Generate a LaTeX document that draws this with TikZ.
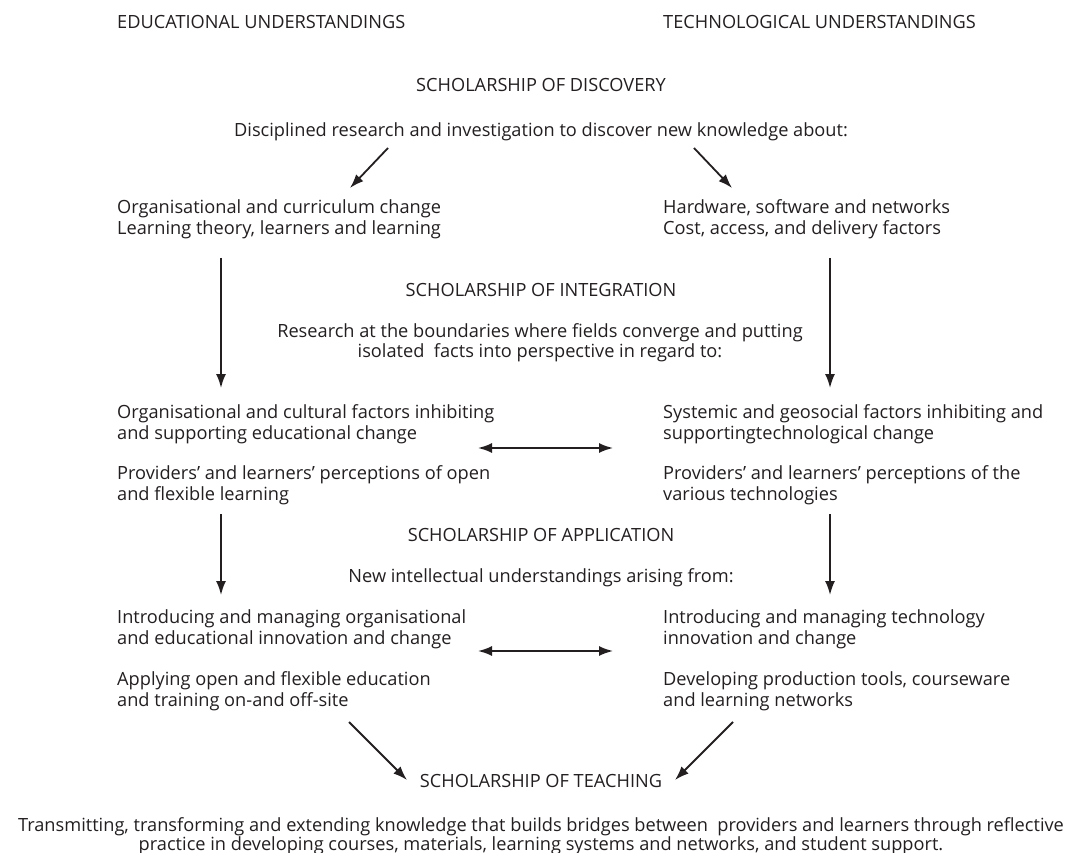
\documentclass[tikz,border=0pt]{standalone}
\usepackage{fontspec}
\setmainfont{Open Sans}
\usetikzlibrary{arrows.meta}
\definecolor{ink}{HTML}{231F20}
\tikzset{
    txt/.style={inner sep=0pt, align=left, anchor=base west, text=ink, font=\fontsize{18.2}{21}\selectfont},
    mid/.style={inner sep=0pt, align=center, anchor=base, text=ink, font=\fontsize{18.2}{21}\selectfont},
    arr/.style={draw=ink, line width=1.8pt, -{Latex[length=14pt,width=10pt]}},
    dbl/.style={draw=ink, line width=1.8pt, {Latex[length=14pt,width=10pt]}-{Latex[length=14pt,width=10pt]}}
}
\begin{document}
\begin{tikzpicture}[x=1pt,y=-1pt]
        \useasboundingbox ( 0, 0 ) rectangle ( 1074, 853 );

        % заголовки
        \node[txt] (edu) at ( 117, 28.5 ) {EDUCATIONAL UNDERSTANDINGS};
        \node[txt] (tech) at ( 663, 28.5 ) {TECHNOLOGICAL UNDERSTANDINGS};

        % discovery
        \node[mid] (disc) at ( 541, 91.5 ) {SCHOLARSHIP OF DISCOVERY};
        \node[mid] (discText) at ( 541, 136.5 ) {Disciplined research and investigation to discover new knowledge about:};
        \node[txt] (discL) at ( 117, 234.5 ) {Organisational and curriculum change\\Learning theory, learners and learning};
        \node[txt] (discR) at ( 663, 234.5 ) {Hardware, software and networks\\Cost, access, and delivery factors};
        % discovery -> [L,R]
        \coordinate (dl1) at ( 388, 148 ); \coordinate (dl2) at ( 350, 188 );
        \coordinate (dr1) at ( 694, 148 ); \coordinate (dr2) at ( 732, 188 );
        \draw[arr] (dl1) -- (dl2);
        \draw[arr] (dr1) -- (dr2);

        % integration
        \node[mid] (integ) at ( 541, 296 ) {SCHOLARSHIP OF INTEGRATION};
        \node[mid, font=\fontsize{18.2}{20}\selectfont] (integText) at ( 540, 357.5 ) {Research at the boundaries where fields converge and putting\\isolated\ \ facts into perspective in regard to:};
        \node[txt] (integL1) at ( 117, 439.5 ) {Organisational and cultural factors inhibiting\\and supporting educational change};
        \node[txt] (integL2) at ( 117, 500.5 ) {Providers' and learners' perceptions of open\\and flexible learning};
        \node[txt] (integR1) at ( 663, 439.5 ) {Systemic and geosocial factors inhibiting and\\supportingtechnological change};
        \node[txt] (integR2) at ( 663, 500.5 ) {Providers' and learners' perceptions of the\\various technologies};
        % [L,R] -> integration
        \coordinate (il1) at ( 221, 258 ); \coordinate (il2) at ( 221, 388 );
        \coordinate (ir1) at ( 830, 258 ); \coordinate (ir2) at ( 830, 388 );
        \draw[arr] (il1) -- (il2);
        \draw[arr] (ir1) -- (ir2);
        % L <-> R
        \coordinate (ia) at ( 478, 448 ); \coordinate (ib) at ( 613, 448 );
        \draw[dbl] (ia) -- (ib);

        % application
        \node[mid] (appl) at ( 541, 541.5 ) {SCHOLARSHIP OF APPLICATION};
        \node[mid] (applText) at ( 541, 582.5 ) {New intellectual understandings arising from:};
        \node[txt] (applL1) at ( 117, 644.5 ) {Introducing and managing organisational\\and educational innovation and change};
        \node[txt] (applL2) at ( 117, 706.5 ) {Applying open and flexible education\\and training on-and off-site};
        \node[txt] (applR1) at ( 663, 644.5 ) {Introducing and managing technology\\innovation and change};
        \node[txt] (applR2) at ( 663, 706.5 ) {Developing production tools, courseware\\and learning networks};
        % integration -> application
        \coordinate (al1) at ( 221, 514 ); \coordinate (al2) at ( 221, 595 );
        \coordinate (ar1) at ( 830, 514 ); \coordinate (ar2) at ( 830, 595 );
        \draw[arr] (al1) -- (al2);
        \draw[arr] (ar1) -- (ar2);
        % L <-> R
        \coordinate (aa) at ( 478, 651 ); \coordinate (ab) at ( 613, 651 );
        \draw[dbl] (aa) -- (ab);

        % teaching
        \node[mid] (teach) at ( 541, 787.5 ) {SCHOLARSHIP OF TEACHING};
        \node[mid, font=\fontsize{18.2}{18.5}\selectfont] (teachText) at ( 541, 850 ) {Transmitting, transforming and extending knowledge that builds bridges between\ \ providers and learners through reflective\\practice in developing courses, materials, learning systems and networks, and student support.};
        % application -> teaching
        \coordinate (tl1) at ( 349, 722 ); \coordinate (tl2) at ( 407, 780 );
        \coordinate (tr1) at ( 733, 722 ); \coordinate (tr2) at ( 675, 780 );
        \draw[arr] (tl1) -- (tl2);
        \draw[arr] (tr1) -- (tr2);
    \end{tikzpicture}
\end{document}
